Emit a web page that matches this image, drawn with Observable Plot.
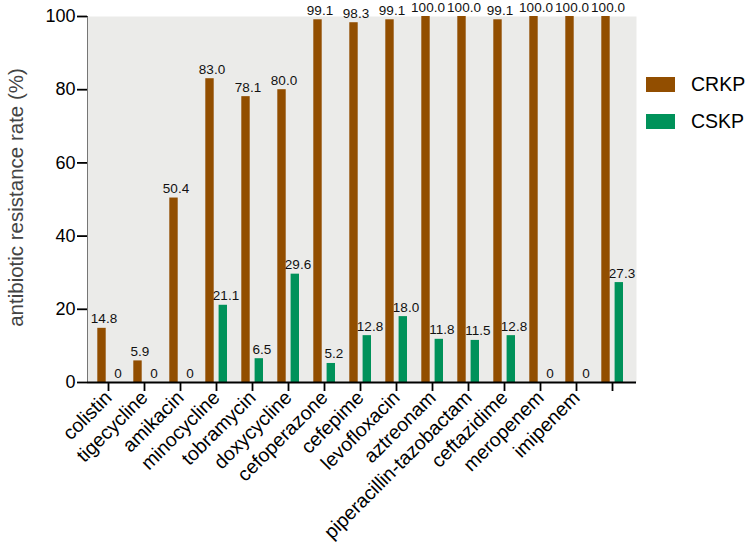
<!DOCTYPE html>
<html>
<head>
<meta charset="utf-8">
<script src="https://cdn.jsdelivr.net/npm/d3@7"></script>
<script src="https://cdn.jsdelivr.net/npm/@observablehq/plot@0.6"></script>
<style>
  html, body { margin: 0; padding: 0; background: #fff; }
  #wrap { position: relative; width: 750px; height: 556px; font-family: "Liberation Sans", Arial, sans-serif; }
  #legend { position: absolute; left: 646px; top: 77px; }
  .item { display: flex; align-items: center; height: 15px; margin-bottom: 22px; }
  .sw { width: 29px; height: 15px; margin-right: 16px; }
  .lab { font-size: 19.5px; color: #000; line-height: 15px; }
  svg [aria-label*="axis"] line, svg [aria-label*="axis"] path { stroke-width: 1.8; stroke: #000; }
</style>
</head>
<body>
<div id="wrap"></div>
<script>
const drugs = ["colistin","tigecycline","amikacin","minocycline","tobramycin","doxycycline","cefoperazone","cefepime","levofloxacin","aztreonam","piperacillin-tazobactam","ceftazidime","meropenem","imipenem",""];
const crkp = [14.8,5.9,50.4,83.0,78.1,80.0,99.1,98.3,99.1,100.0,100.0,99.1,100.0,100.0,100.0];
const cskp = [0,0,0,21.1,6.5,29.6,5.2,12.8,18.0,11.8,11.5,12.8,0,0,27.3];
const series = ["CRKP","CSKP"];
const colors = ["#924e00","#00925a"];
const yTicks = [0,20,40,60,80,100];
const yTitle = "antibiotic resistance rate (%)";

const rows = drugs.map((d, i) => ({drug: d, CRKP: crkp[i], CSKP: cskp[i]}));
const fmt = v => v === 0 ? "0" : v.toFixed(1);

const chart = Plot.plot({
  width: 750,
  height: 556,
  marginTop: 16,
  marginBottom: 174,
  marginLeft: 87,
  marginRight: 114,
  style: {fontFamily: "Liberation Sans, Arial, sans-serif", fontSize: "18px", background: "#fff", color: "#000", overflow: "visible"},
  x: {domain: drugs, range: [84.5, 634.5], padding: 0, tickSize: 9, tickRotate: -45, tickPadding: 3, label: null},
  y: {domain: [0, 100], ticks: yTicks, tickSize: 10, tickPadding: 2, line: true, label: null},
  marks: [
    Plot.frame({fill: "#ebebe9", stroke: "none"}),
    Plot.barY(rows, {x: "drug", y: "CRKP", fill: colors[0], insetLeft: 7.3, insetRight: 20.3}),
    Plot.barY(rows, {x: "drug", y: "CSKP", fill: colors[1], insetLeft: 20.6, insetRight: 7.0}),
    Plot.text(rows, {x: "drug", y: "CRKP", text: d => fmt(d.CRKP), dx: -4.5, dy: -5, lineAnchor: "bottom", fontSize: 13.5, fill: "#111"}),
    Plot.text(rows, {x: "drug", y: "CSKP", text: d => fmt(d.CSKP), dx: 9.5, dy: -5, lineAnchor: "bottom", fontSize: 13.5, fill: "#111"}),
    Plot.ruleY([0], {stroke: "#000", strokeWidth: 2}),
    Plot.text([yTitle], {text: d => d, frameAnchor: "left", textAnchor: "middle", rotate: -90, dx: -71, dy: -2, fontSize: 20.5, fill: "#444"})
  ]
});

// category tick labels a touch larger, as in the reference
const drugSet = new Set(drugs.filter(d => d));
d3.select(chart).selectAll("text")
  .filter(function() { return drugSet.has(this.textContent); })
  .style("font-size", "19.5px")
  .style("fill", "#000");

const wrap = document.getElementById("wrap");
wrap.appendChild(chart);

const legend = document.createElement("div");
legend.id = "legend";
series.forEach((s, i) => {
  const item = document.createElement("div");
  item.className = "item";
  const sw = document.createElement("div");
  sw.className = "sw";
  sw.style.background = colors[i];
  const lab = document.createElement("span");
  lab.className = "lab";
  lab.textContent = s;
  item.appendChild(sw);
  item.appendChild(lab);
  legend.appendChild(item);
});
wrap.appendChild(legend);
</script>
</body>
</html>
